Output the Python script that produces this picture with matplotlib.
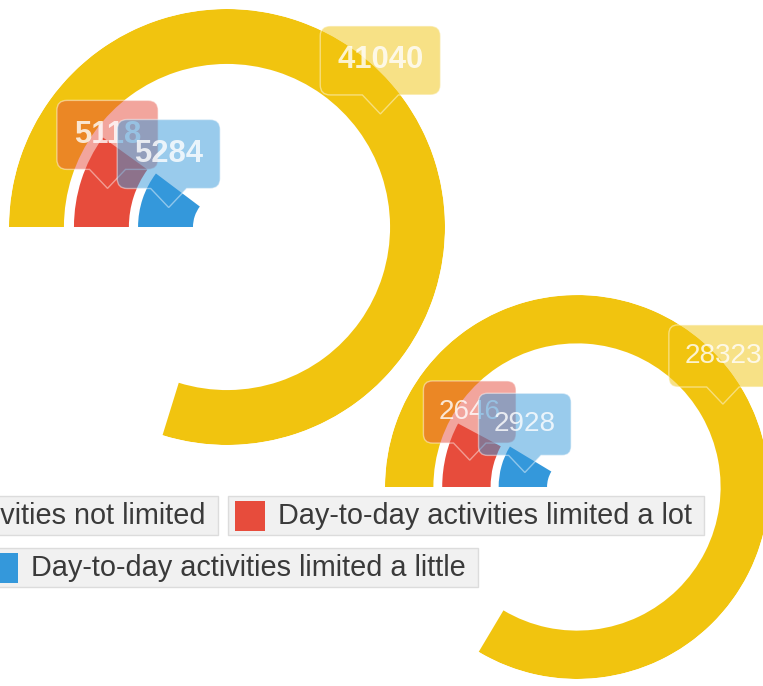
import matplotlib
matplotlib.use("Agg")
import matplotlib.pyplot as plt
import numpy as np
from matplotlib.path import Path
from matplotlib.patches import PathPatch, Rectangle

categories = [
    "Day-to-day activities not limited",
    "Day-to-day activities limited a lot",
    "Day-to-day activities limited a little",
]
group_a = [41040, 5118, 5284]
group_b = [28323, 2646, 2928]
colors = ["#f1c40f", "#e74c3c", "#3498db"]

W, H = 763, 686
plt.rcParams["font.family"] = ["Liberation Sans", "DejaVu Sans"]

fig = plt.figure(figsize=(W / 100, H / 100), dpi=100)

# overlay axes in pixel units, for tooltips and legend
over = fig.add_axes([0, 0, 1, 1], zorder=10)
over.set_xlim(0, W)
over.set_ylim(0, H)
over.set_axis_off()

ring_outer = [1.0, 0.702, 0.408]
ring_width = 0.252


def radial_chart(cx, cy, radius, values):
    # cx, cy from top-left, radius in pixels
    ax = fig.add_axes([(cx - radius) / W, (H - cy - radius) / H,
                       2 * radius / W, 2 * radius / H], projection="polar")
    ax.set_theta_zero_location("W")
    ax.set_theta_direction(-1)
    ax.set_rlim(0, 1)
    ax.set_axis_off()
    total = sum(values)
    spans = [2 * np.pi * v / total for v in values]
    for outer, span, c in zip(ring_outer, spans, colors):
        ax.bar(0, ring_width, width=span, bottom=outer - ring_width,
               align="edge", color=c, edgecolor="none")
    return ax, spans


def tooltip(ax, theta, r, label, color, scale, weight, z):
    fig.canvas.draw_idle()
    tx, ty = ax.transData.transform((theta, r))
    t = over.text(tx, 0, label, fontsize=22.3 * scale, fontweight=weight,
                  color="white", alpha=0.8, ha="center", va="center",
                  zorder=z + 1)
    ren = fig.canvas.get_renderer()
    tw = t.get_window_extent(ren).width
    ph, pw = 19 * scale, 18 * scale
    bw, bh, rad = tw + 34 * scale, 69 * scale, 10 * scale
    left, right = tx - bw / 2, tx + bw / 2
    bot, top = ty + ph, ty + ph + bh
    verts = [
        (left + rad, bot), (tx - pw, bot), (tx, ty), (tx + pw, bot),
        (right - rad, bot), (right, bot), (right, bot + rad),
        (right, top - rad), (right, top), (right - rad, top),
        (left + rad, top), (left, top), (left, top - rad),
        (left, bot + rad), (left, bot), (left + rad, bot), (0, 0),
    ]
    codes = [Path.MOVETO, Path.LINETO, Path.LINETO, Path.LINETO,
             Path.LINETO, Path.CURVE3, Path.CURVE3,
             Path.LINETO, Path.CURVE3, Path.CURVE3,
             Path.LINETO, Path.CURVE3, Path.CURVE3,
             Path.LINETO, Path.CURVE3, Path.CURVE3, Path.CLOSEPOLY]
    over.add_patch(PathPatch(Path(verts, codes), facecolor=color, alpha=0.5,
                             edgecolor="none", zorder=z))
    over.add_patch(PathPatch(Path(verts, codes), facecolor="none",
                             edgecolor=(1, 1, 1, 0.45), lw=1, zorder=z))
    t.set_y((bot + top) / 2)


charts = [
    (227, 227, 218, group_a, 1.0, "bold"),
    (577, 487, 192, group_b, 0.9, "normal"),
]
z = 20
for cx, cy, rad, vals, sc, wt in charts:
    ax, spans = radial_chart(cx, cy, rad, vals)
    for outer, span, v, c in zip(ring_outer, spans, vals, colors):
        tooltip(ax, span / 2, outer - ring_width / 2, str(v), c, sc, wt, z)
        z += 2

# legend: flowing boxes, partly cropped at the left edge
ren = fig.canvas.get_renderer()


def legend_item(x, y_top, label, color, anchor_right=False):
    t = over.text(0, 0, label, fontsize=20.8, color="#3a3a3a",
                  ha="left", va="center", zorder=60)
    tw = t.get_window_extent(ren).width
    bw = 50 + tw + 12
    if anchor_right:
        x = x - bw
    ybot = H - y_top - 39
    over.add_patch(Rectangle((x, ybot), bw, 39, facecolor="#f1f1f1",
                             edgecolor="#dcdcdc", lw=1, zorder=58))
    over.add_patch(Rectangle((x + 7, ybot + 4.5), 30, 30, facecolor=color,
                             edgecolor="none", zorder=59))
    t.set_position((x + 50, ybot + 19.5))


legend_item(218, 496, categories[0], colors[0], anchor_right=True)
legend_item(228, 496, categories[1], colors[1])
legend_item(-19, 548, categories[2], colors[2])

fig.savefig("out.png", dpi=100)
